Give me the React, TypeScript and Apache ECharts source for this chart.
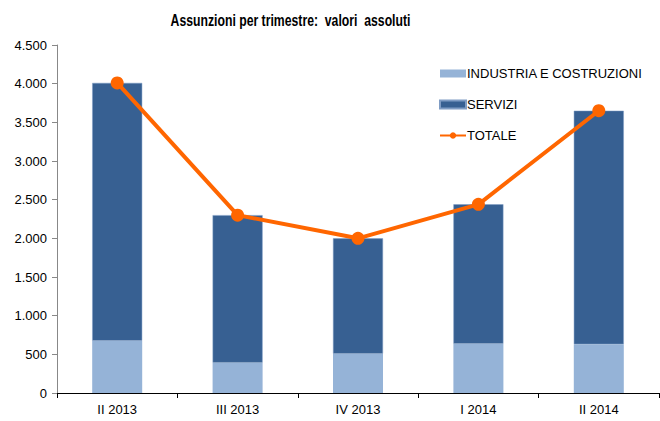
import React, { useEffect, useRef } from "react";
import * as echarts from "echarts";

const categories = ["II 2013", "III 2013", "IV 2013", "I 2014", "II 2014"];
const industria = [676, 392, 508, 637, 630];
const servizi = [3334, 1908, 1492, 1803, 3020];
const totale = [4010, 2300, 2000, 2440, 3650];
const yTicks = [0, 500, 1000, 1500, 2000, 2500, 3000, 3500, 4000, 4500];
const titleText = "Assunzioni per trimestre:  valori  assoluti";

const FONT = "'Liberation Sans', Arial, sans-serif";

function fmt(v: number): string {
  return v.toLocaleString("de-DE");
}

export default function App() {
  const ref = useRef<HTMLDivElement>(null);
  useEffect(() => {
    if (!ref.current) return;
    const chart = echarts.init(ref.current, undefined, { renderer: "svg" });
    chart.setOption({
      animation: false,
      textStyle: { fontFamily: FONT },
      graphic: [
        {
          type: "text",
          x: 290.5,
          y: 20,
          scaleX: 0.72,
          style: {
            text: titleText,
            fontFamily: FONT,
            fontSize: 17,
            fontWeight: "bold",
            fill: "#000",
            textAlign: "center",
            textVerticalAlign: "middle",
          },
        },
      ],
      legend: {
        orient: "vertical",
        left: 434,
        top: 62,
        itemGap: 18,
        itemWidth: 26,
        itemHeight: 8,
        textStyle: { fontFamily: FONT, fontSize: 13, color: "#000", padding: [0, 0, 0, -4] },
        data: [
          { name: "INDUSTRIA E COSTRUZIONI", icon: "rect" },
          { name: "SERVIZI", icon: "rect" },
          { name: "TOTALE" },
        ],
      },
      grid: { left: 57, right: 1, top: 45, bottom: 28, containLabel: false },
      xAxis: {
        type: "category",
        data: categories,
        axisLine: { lineStyle: { color: "#000", width: 1 } },
        axisTick: { show: true, alignWithLabel: false, length: 5, lineStyle: { color: "#000" } },
        axisLabel: { fontFamily: FONT, fontSize: 13, color: "#000", margin: 10 },
      },
      yAxis: {
        type: "value",
        min: yTicks[0],
        max: yTicks[yTicks.length - 1],
        interval: 500,
        splitLine: { show: false },
        axisLine: { show: true, lineStyle: { color: "#888", width: 1 } },
        axisTick: { show: true, length: 5, lineStyle: { color: "#888" } },
        axisLabel: {
          fontFamily: FONT,
          fontSize: 13,
          color: "#000",
          margin: 10,
          formatter: (v: number) => fmt(v),
        },
      },
      series: [
        {
          name: "INDUSTRIA E COSTRUZIONI",
          type: "bar",
          stack: "t",
          data: industria,
          barWidth: 50,
          itemStyle: { color: "#95B3D7" },
        },
        {
          name: "SERVIZI",
          type: "bar",
          stack: "t",
          data: servizi,
          barWidth: 50,
          itemStyle: { color: "#376092", borderColor: "#7f9cc4", borderWidth: 0.5 },
        },
        {
          name: "TOTALE",
          type: "line",
          data: totale,
          symbol: "circle",
          symbolSize: 13,
          lineStyle: { color: "#FF6600", width: 4 },
          itemStyle: { color: "#FF6600" },
        },
      ],
    });
    return () => chart.dispose();
  }, []);
  return <div ref={ref} style={{ width: 660, height: 421, position: "absolute", left: 0, top: 0 }} />;
}
